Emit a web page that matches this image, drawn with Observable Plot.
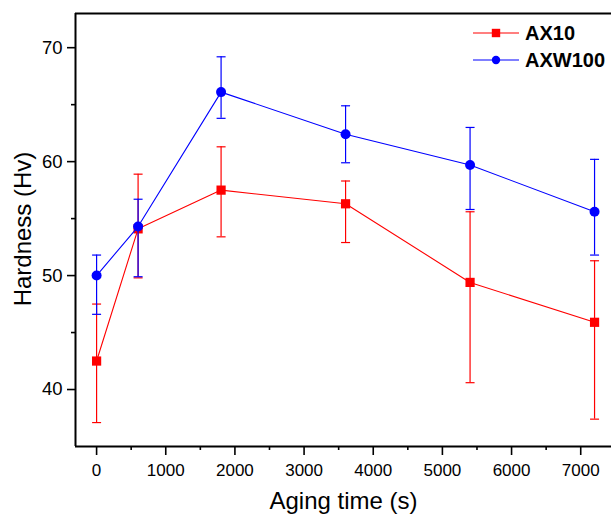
<!DOCTYPE html>
<html>
<head>
<meta charset="utf-8">
<script src="https://cdn.jsdelivr.net/npm/d3@7"></script>
<script src="https://cdn.jsdelivr.net/npm/@observablehq/plot@0.6"></script>
<style>
  html, body { margin: 0; padding: 0; background: #fff; }
  #chart svg { display: block; }
</style>
</head>
<body>
<div id="chart"></div>
<script>
// ---- data ----
const times = [0, 600, 1800, 3600, 5400, 7200];
const seriesNames = ["AX10", "AXW100"];
const ax10 = [42.5, 54.1, 57.5, 56.3, 49.4, 45.9];
const ax10Lo = [37.1, 49.8, 53.4, 52.9, 40.6, 37.4];
const ax10Hi = [47.5, 58.9, 61.3, 58.3, 55.6, 51.3];
const axw100 = [50.0, 54.3, 66.1, 62.4, 59.7, 55.6];
const axw100Lo = [46.6, 49.9, 63.8, 59.9, 55.8, 51.8];
const axw100Hi = [51.8, 56.7, 69.2, 64.9, 63.0, 60.2];
const xMajorTicks = [0, 1000, 2000, 3000, 4000, 5000, 6000, 7000];
const xMinorTicks = [500, 1500, 2500, 3500, 4500, 5500, 6500];
const yMajorTicks = [40, 50, 60, 70];
const yMinorTicks = [45, 55, 65];
const xDomain = [-305, 7445];
const yDomain = [35, 73];
const xTitle = "Aging time (s)";
const yTitle = "Hardness (Hv)";

const colors = {AX10: "#ff0000", AXW100: "#0000ff"};
const symbols = {AX10: "square", AXW100: "circle"};

const rows = (name, v, lo, hi) => times.map((t, i) => ({series: name, t, v: v[i], lo: lo[i], hi: hi[i]}));
const dAX10 = rows("AX10", ax10, ax10Lo, ax10Hi);
const dAXW = rows("AXW100", axw100, axw100Lo, axw100Hi);

const cap = {draw(ctx) { ctx.moveTo(-4.5, 0); ctx.lineTo(4.5, 0); }};

function seriesMarks(d) {
  const c = colors[d[0].series];
  return [
    Plot.ruleX(d, {x: "t", y1: "lo", y2: "hi", stroke: c, strokeWidth: 1.2}),
    Plot.dot(d, {x: "t", y: "lo", symbol: cap, r: 4, fill: "none", stroke: c, strokeWidth: 1.2}),
    Plot.dot(d, {x: "t", y: "hi", symbol: cap, r: 4, fill: "none", stroke: c, strokeWidth: 1.2}),
    Plot.line(d, {x: "t", y: "v", stroke: c, strokeWidth: 1.1}),
    Plot.dot(d, {x: "t", y: "v", symbol: symbols[d[0].series], r: symbols[d[0].series] === "square" ? 5.2 : 5, fill: c, stroke: "none"})
  ];
}

const font = "'Liberation Sans', Arial, sans-serif";

const plot = Plot.plot({
  width: 611,
  height: 516,
  marginLeft: 75,
  marginRight: 0,
  marginTop: 13,
  marginBottom: 70,
  style: {fontFamily: font, background: "#fff", color: "#000"},
  x: {domain: xDomain},
  y: {domain: yDomain},
  marks: [
    ...seriesMarks(dAX10),
    ...seriesMarks(dAXW),
    Plot.axisX({ticks: xMajorTicks, tickSize: 9, tickPadding: 8, fontSize: 17, label: null, tickFormat: d => String(d), strokeWidth: 1.6}),
    Plot.axisX({ticks: xMinorTicks, tickSize: 4, text: null, label: null, strokeWidth: 1.6}),
    Plot.axisY({ticks: yMajorTicks, tickSize: 8, tickPadding: 5, fontSize: 18.5, label: null, strokeWidth: 1.6}),
    Plot.axisY({ticks: yMinorTicks, tickSize: 4, text: null, label: null, strokeWidth: 1.6}),
    Plot.ruleX([xDomain[0]], {stroke: "#000", strokeWidth: 2}),
    Plot.ruleY([yDomain[0]], {stroke: "#000", strokeWidth: 2}),
    Plot.ruleY([yDomain[1]], {stroke: "#000", strokeWidth: 2}),
    Plot.text([xTitle], {frameAnchor: "bottom", textAnchor: "middle", lineAnchor: "middle", dy: 55, fontSize: 24, fill: "#000"}),
    Plot.text([yTitle], {frameAnchor: "left", textAnchor: "middle", lineAnchor: "middle", dx: -52, dy: -1, rotate: -90, fontSize: 24, fill: "#000"})
  ]
});

document.getElementById("chart").appendChild(plot);

// ---- legend (inside the plot, top-right) ----
const svg = d3.select(plot);
const lg = svg.append("g").attr("font-family", font);
seriesNames.forEach((name, i) => {
  const y = 33 + i * 27;
  const c = colors[name];
  lg.append("line").attr("x1", 473).attr("x2", 519).attr("y1", y).attr("y2", y).attr("stroke", c).attr("stroke-width", 1.1);
  if (symbols[name] === "square") {
    lg.append("rect").attr("x", 496 - 4.2).attr("y", y - 4.2).attr("width", 8.4).attr("height", 8.4).attr("fill", c);
  } else {
    lg.append("circle").attr("cx", 496).attr("cy", y).attr("r", 4.2).attr("fill", c);
  }
  lg.append("text").attr("x", 525).attr("y", y).attr("dy", "0.35em")
    .attr("text-anchor", "start")
    .attr("font-size", 20).attr("font-weight", "bold").attr("fill", "#000").text(name);
});
</script>
</body>
</html>
